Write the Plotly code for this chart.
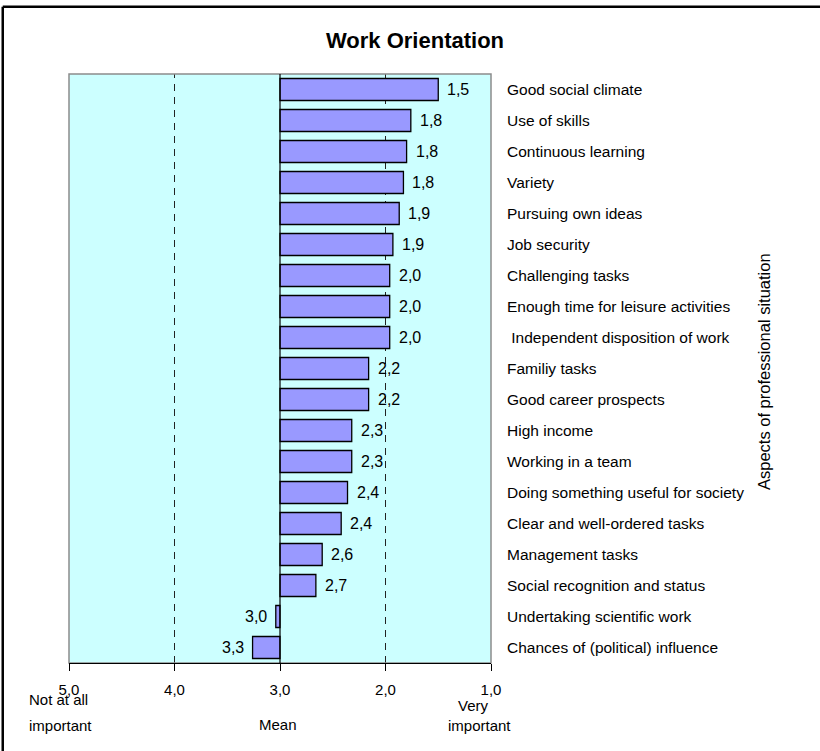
import plotly.graph_objects as go

# Aspects of the professional situation, ordered from most to least important
aspects = [
    "Good social climate",
    "Use of skills",
    "Continuous learning",
    "Variety",
    "Pursuing own ideas",
    "Job security",
    "Challenging tasks",
    "Enough time for leisure activities",
    " Independent disposition of work",
    "Familiy tasks",
    "Good career prospects",
    "High income",
    "Working in a team",
    "Doing something useful for society",
    "Clear and well-ordered tasks",
    "Management tasks",
    "Social recognition and status",
    "Undertaking scientific work",
    "Chances of (political) influence",
]

# Mean ratings (1 = very important, 5 = not at all important)
means = [1.50, 1.76, 1.80, 1.83, 1.87, 1.93, 1.96, 1.96, 1.96, 2.16,
         2.16, 2.32, 2.32, 2.36, 2.42, 2.60, 2.66, 3.04, 3.26]

# Scale midpoint the bars grow from, and axis ticks
midpoint = 3.0
scale_ticks = [5.0, 4.0, 3.0, 2.0, 1.0]
dashed_refs = [4.0, 2.0]

FONT = "Liberation Sans, Arial, sans-serif"
BAR_FILL = "#9999FF"
PLOT_BG = "#CCFFFF"

fig = go.Figure()

fig.add_trace(go.Bar(
    y=aspects,
    x=[m - midpoint for m in means],
    base=midpoint,
    orientation="h",
    marker=dict(color=BAR_FILL, line=dict(color="black", width=1.3)),
    hoverinfo="skip",
))

# Value labels next to the end of each bar
for name, m in zip(aspects, means):
    right_side = m < midpoint
    fig.add_annotation(
        x=m, y=name, xref="x", yref="y",
        text=f"{m:.1f}".replace(".", ","),
        showarrow=False,
        xanchor="left" if right_side else "right",
        xshift=7 if right_side else -7,
        font=dict(family=FONT, size=16, color="black"),
    )

shapes = []
# dashed reference lines
for v in dashed_refs:
    shapes.append(dict(type="line", xref="x", yref="paper", x0=v, x1=v, y0=0, y1=1,
                       line=dict(color="#222222", width=1, dash="7px,6px"), layer="below"))
# plot area frame
shapes.append(dict(type="rect", xref="paper", yref="paper", x0=0, x1=1, y0=0, y1=1,
                   line=dict(color="#8C8C8C", width=1.5), layer="below"))
# solid midpoint line
shapes.append(dict(type="line", xref="x", yref="paper", x0=midpoint, x1=midpoint, y0=0, y1=1,
                   line=dict(color="black", width=1.2)))
# outer frame (left and top edges)
shapes.append(dict(type="line", xref="paper", yref="paper", x0=-0.157, x1=-0.157, y0=-0.2, y1=1.114,
                   line=dict(color="black", width=2.5)))
shapes.append(dict(type="line", xref="paper", yref="paper", x0=-0.157, x1=1.8, y0=1.114, y1=1.114,
                   line=dict(color="black", width=2.5)))

# scale-end descriptions and the axis caption under the value axis
annotations_extra = [
    dict(text="Not at all", x=-0.0995, y=-0.0628, xanchor="left"),
    dict(text="important", x=-0.0995, y=-0.1053, xanchor="left"),
    dict(text="Mean", x=(278 - 69) / 422, y=-0.1036, xanchor="center"),
    dict(text="Very", x=(473 - 69) / 422, y=-0.073, xanchor="center"),
    dict(text="important", x=(479 - 69) / 422, y=-0.1053, xanchor="center"),
]
for a in annotations_extra:
    fig.add_annotation(xref="paper", yref="paper", showarrow=False, yanchor="middle",
                       font=dict(family=FONT, size=15, color="black"), **a)

# axis title for the categories, rotated
fig.add_annotation(
    text="Aspects of professional situation",
    xref="paper", yref="paper", x=(764 - 69) / 422, y=0.494,
    xanchor="center", yanchor="middle", textangle=-90, showarrow=False,
    font=dict(family=FONT, size=16.5, color="black"),
)

fig.update_layout(
    width=820, height=751,
    margin=dict(l=69, r=329, t=74, b=88),
    paper_bgcolor="white",
    plot_bgcolor=PLOT_BG,
    separators=", ",
    showlegend=False,
    bargap=0.29,
    font=dict(family=FONT, color="black"),
    title=dict(
        text="<b>Work Orientation</b>",
        x=415 / 820, xanchor="center", xref="container",
        y=1 - 40 / 751, yanchor="middle", yref="container",
        font=dict(family=FONT, size=22, color="black"),
    ),
    shapes=shapes,
    xaxis=dict(
        range=[5, 1],
        tickvals=scale_ticks,
        tickformat=".1f",
        ticks="outside", ticklen=7, tickcolor="black", tickwidth=1,
        showline=True, linecolor="black", linewidth=1.2,
        showgrid=False, zeroline=False,
        tickfont=dict(family=FONT, size=15, color="black"),
        ticklabelstandoff=6,
    ),
    yaxis=dict(
        type="category",
        autorange="reversed",
        side="right",
        showgrid=False, zeroline=False, showline=False,
        ticks="",
        tickfont=dict(family=FONT, size=15.5, color="black"),
        ticklabelstandoff=15,
    ),
)

fig.write_html("out.html")
